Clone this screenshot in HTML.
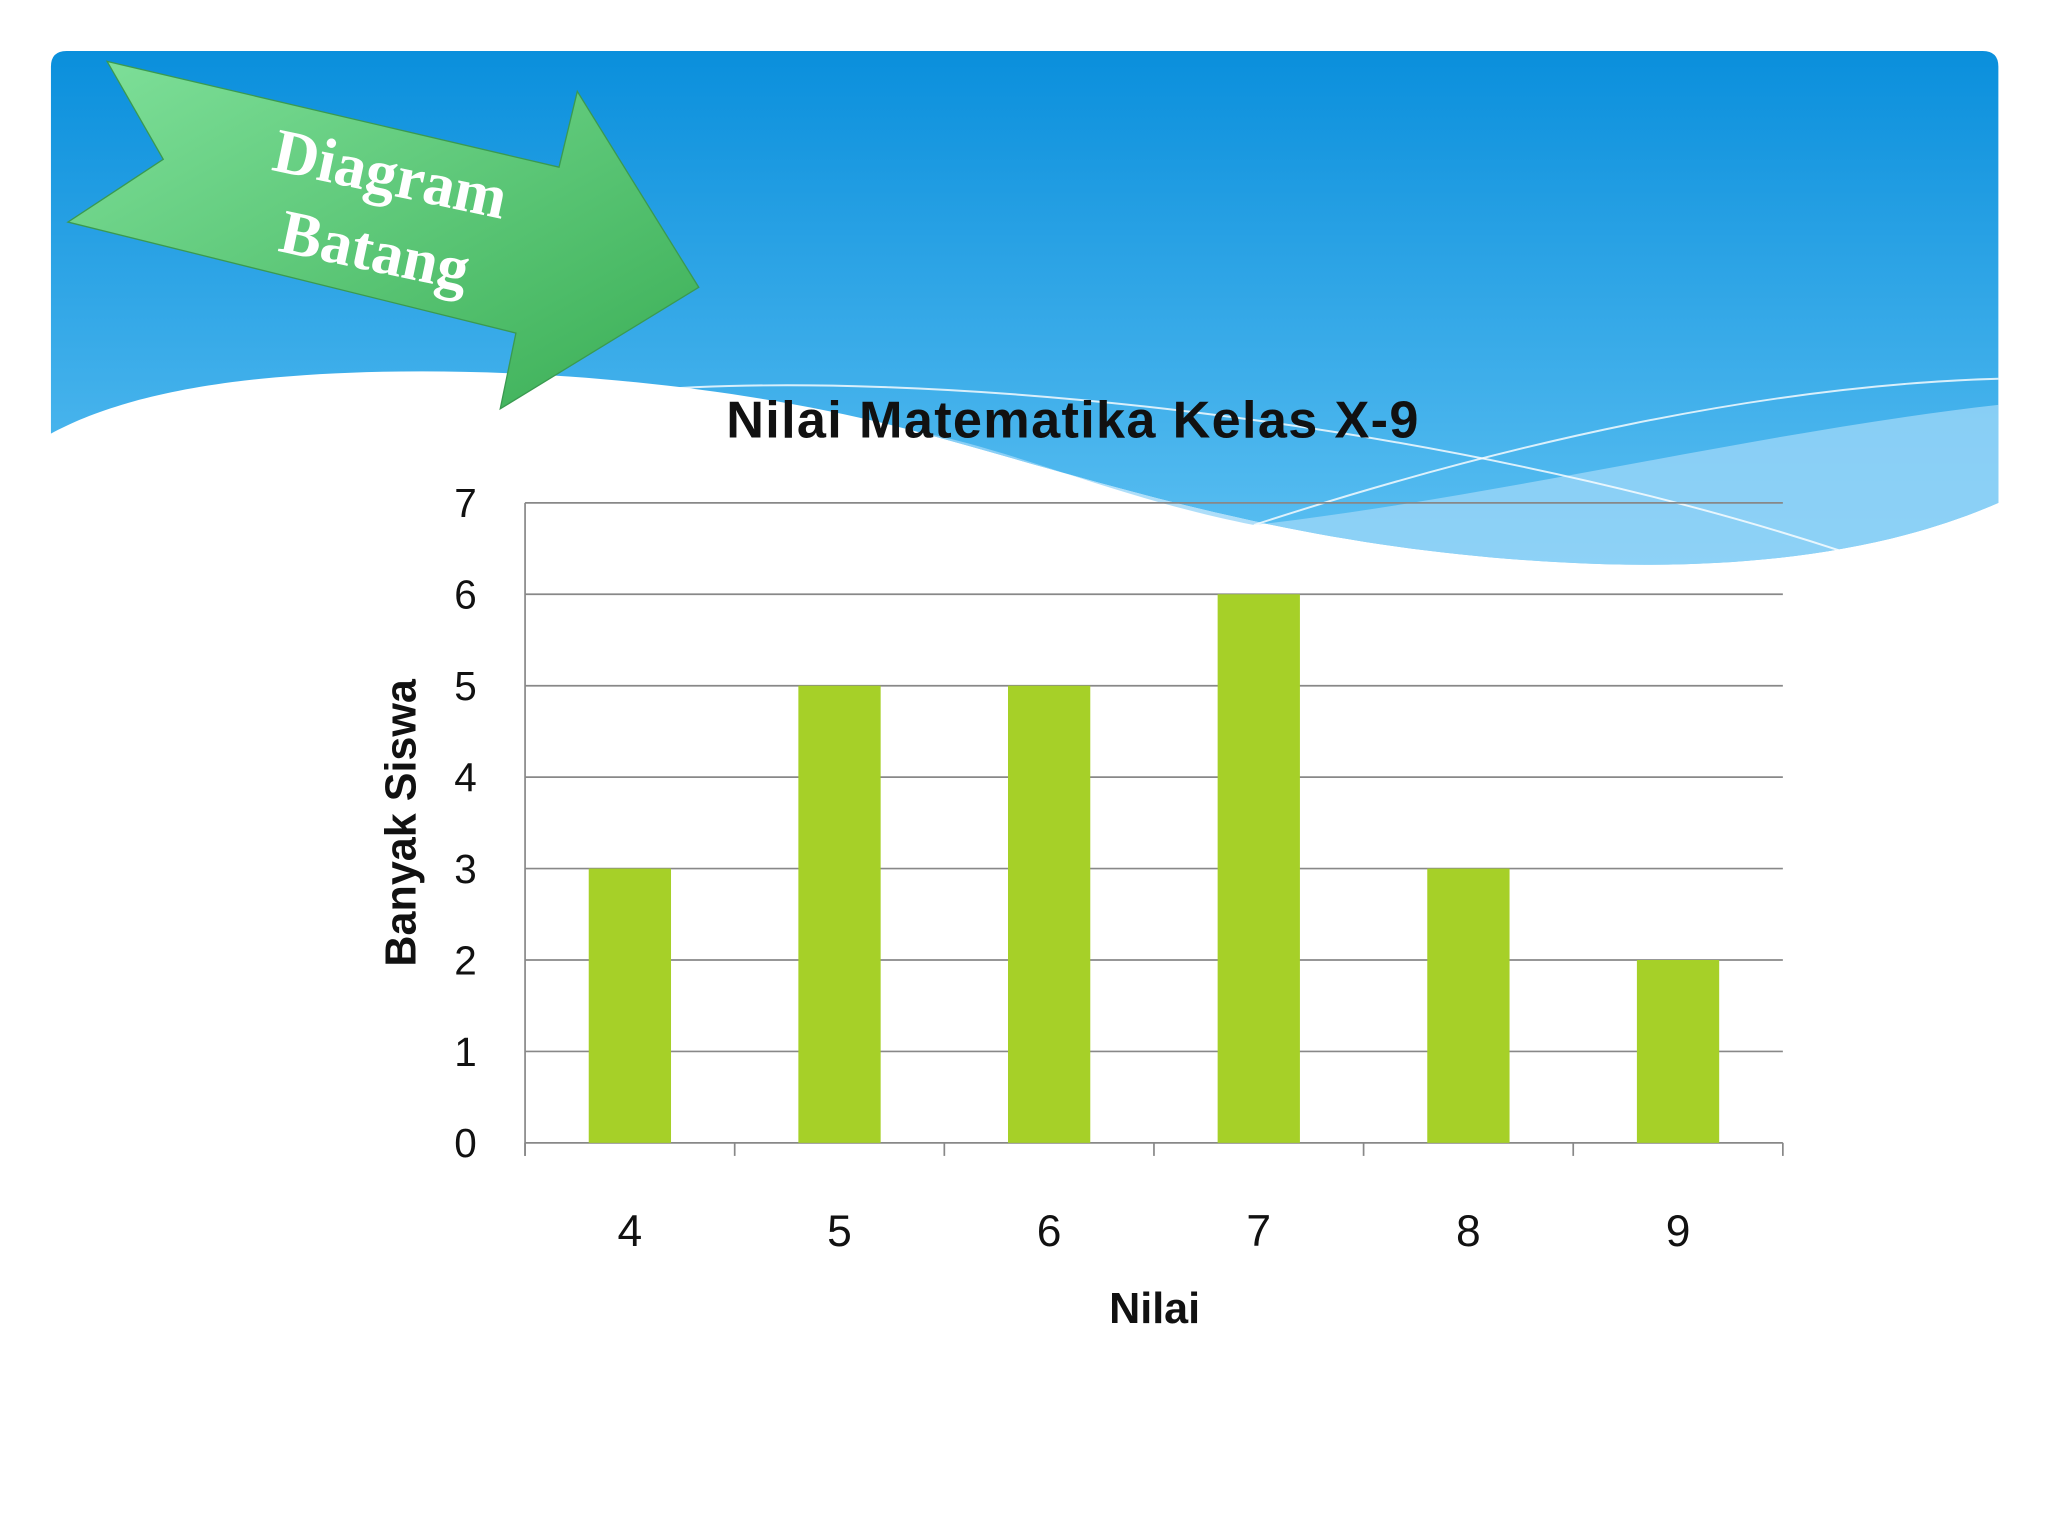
<!DOCTYPE html>
<html><head><meta charset="utf-8"><style>
html,body{margin:0;padding:0;background:#fff;}
svg{display:block;}
text{font-family:"Liberation Sans",sans-serif;}
text.serif{font-family:"Liberation Serif",serif;}
</style></head><body>
<svg width="2048" height="1536" viewBox="0 0 1568 1176">
<defs>
<linearGradient id="sky" x1="0" y1="0" x2="0" y2="1">
<stop offset="0" stop-color="#0a8fdc"/><stop offset="1" stop-color="#5cc0f2"/></linearGradient>
<linearGradient id="arrow" x1="0" y1="0" x2="1" y2="1">
<stop offset="0" stop-color="#7fe09a"/><stop offset="1" stop-color="#3aae55"/></linearGradient>
</defs>
<rect x="0" y="0" width="1568" height="1176" fill="#fff"/>
<g>
<path d="M51,39 H1518 Q1530,39 1530,51 V385 C1450,420 1350,435 1230,432 C1000,425 850,370 700,330 C550,290 350,275 200,290 C120,298 70,315 39,332 V51 Q39,39 51,39 Z" fill="url(#sky)"/>
<path d="M700,330 C850,370 1000,425 1230,432 C1350,435 1450,420 1530,385 V310 C1350,330 1150,380 960,402 C850,380 780,345 700,330 Z" fill="#9ad6f7" opacity="0.8"/>
<path d="M480,300 C700,280 1100,320 1410,422" stroke="#fff" stroke-width="1.5" fill="none" opacity="0.8"/>
<path d="M960,402 C1150,340 1350,295 1530,290" stroke="#fff" stroke-width="1.5" fill="none" opacity="0.8"/>
</g>
<g>
<polygon points="82,47 428,128 442,70 535,220 383,313 395,255 52,170 125,122" fill="url(#arrow)" stroke="#3a9a50" stroke-width="1"/>
<text class="serif" transform="translate(207,130) rotate(12)" font-size="48" font-weight="bold" fill="#fff">Diagram</text>
<text class="serif" transform="translate(212,192) rotate(12)" font-size="48" font-weight="bold" fill="#fff">Batang</text>
</g>
<text x="821" y="335" text-anchor="middle" font-size="40" font-weight="bold" fill="#111" textLength="530">Nilai Matematika Kelas X-9</text>
<g id="chart"></g>
<text transform="translate(318,630) rotate(-90)" text-anchor="middle" font-size="33" font-weight="bold" fill="#111">Banyak Siswa</text>
<text x="884" y="1013" text-anchor="middle" font-size="33" font-weight="bold" fill="#111">Nilai</text>
</svg>
<script>
const categories=["4","5","6","7","8","9"];
const values=[3,5,5,6,3,2];
const yTicks=[0,1,2,3,4,5,6,7];
const NS="http://www.w3.org/2000/svg";
const g=document.getElementById('chart');
const x0=402,x1=1365,yb=875,yt=385,ymax=7;
const y=v=>yb-(v/ymax)*(yb-yt);
const band=(x1-x0)/categories.length;
const xc=i=>x0+band*(i+0.5);
function mk(t,a){const e=document.createElementNS(NS,t);for(const k in a)e.setAttribute(k,a[k]);g.appendChild(e);return e;}
yTicks.forEach(v=>{
 const l=mk('line',{x1:x0,x2:x1,y1:y(v),y2:y(v),stroke:'#888','stroke-width':1.3});
 
 
 const t=mk('text',{x:365,y:y(v)+11,'text-anchor':'end','font-size':31,fill:'#111'});
 t.textContent=v;
 
 
});
const ax=mk('line',{x1:x0,x2:x0,y1:yt,y2:yb+10,stroke:'#888','stroke-width':1.3});


for(let i=0;i<=categories.length;i++){
 const tk=mk('line',{x1:x0+band*i,x2:x0+band*i,y1:yb,y2:yb+10,stroke:'#888','stroke-width':1.3});
 
 
}
categories.forEach((c,i)=>{
 const w=63;
 const r=mk('rect',{x:xc(i)-w/2,y:y(values[i]),width:w,height:yb-y(values[i]),fill:'#a6d028'});
 
 
 const t=mk('text',{x:xc(i),y:954,'text-anchor':'middle','font-size':34,fill:'#111'});
 t.textContent=c;
 
 
});
</script>
</body></html>
